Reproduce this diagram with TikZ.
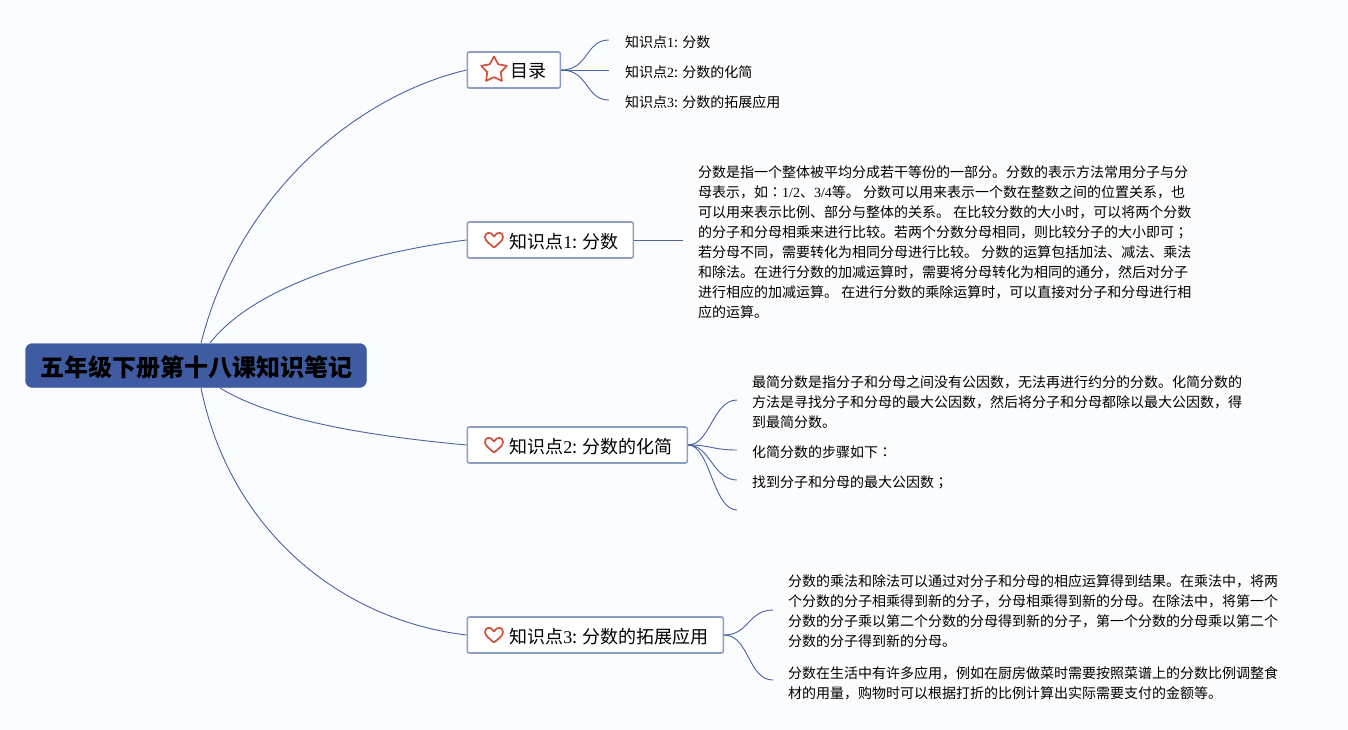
\documentclass[tikz,border=0pt]{standalone}
\usepackage{fontspec}
\setmainfont{Noto Sans CJK SC}
\newfontfamily\latfont{Liberation Serif}
\newfontfamily\twfont{Noto Sans CJK TC}
\newcommand{\lat}[1]{{\latfont #1}}
\newcommand{\tw}[1]{{\twfont #1}}
\usetikzlibrary{shapes.geometric}
\definecolor{pagebg}{HTML}{FBFCFD}
\definecolor{edgeblue}{HTML}{4A62A6}
\definecolor{boxline}{HTML}{8E9DC6}
\definecolor{rootblue}{HTML}{3F5BA1}
\definecolor{iconred}{HTML}{D0503C}
\newcommand{\boxlabel}[3]{\makebox[#1pt][l]{\hspace{#2pt}#3}}
\newcommand{\heartat}[2]{\draw[iconwork] (#1+0,#2+7.5) .. controls (#1-4,#2+4) and (#1-9,#2+1) .. (#1-9,#2-3) .. controls (#1-9,#2-8) and (#1-3,#2-9) .. (#1,#2-3.5) .. controls (#1+3,#2-9) and (#1+9,#2-8) .. (#1+9,#2-3) .. controls (#1+9,#2+1) and (#1+4,#2+4) .. cycle;}
\tikzset{
  iconwork/.style={draw=iconred,line width=1.7pt,line join=round},
  rootbox/.style={fill=rootblue,draw=rootblue,rounded corners=7pt,minimum width=341pt,minimum height=44pt,inner sep=0pt,text height=21pt,text depth=0pt,font=\fontsize{24}{28}\selectfont\bfseries,text=black},
  topicbox/.style={draw=boxline,line width=1.6pt,fill=white,rounded corners=2pt,minimum height=36pt,inner sep=0pt,anchor=west,text height=16pt,text depth=0pt,font=\fontsize{18}{20}\selectfont,text=black},
  notetext/.style={anchor=west,align=left,inner ysep=0pt,inner xsep=15pt,font=\fontsize{14}{20}\selectfont,text=black},
  link/.style={draw=edgeblue,line width=0.9pt},
}
\begin{document}
\begin{tikzpicture}[x=1pt,y=-1pt]
\fill[pagebg] (0,0) rectangle (1348,730);
\useasboundingbox (0,0) rectangle (1348,730);

\node[rootbox] (root) at (196,365.5) {五年级下册第十八课知识笔记};
\node[topicbox] (toc) at (466.5,70) {\boxlabel{93}{43}{目录}};
\node[topicbox] (k1) at (466.5,240) {\boxlabel{166}{42}{知识点\lat{1}: 分数}};
\node[topicbox] (k2) at (466.5,445) {\boxlabel{220}{42}{知识点\lat{2}: 分数的化简}};
\node[topicbox] (k3) at (466.5,635) {\boxlabel{256}{42}{知识点\lat{3}: 分数的拓展应用}};

\node[star,star points=5,star point ratio=1.9,draw=iconred,line width=1.7pt,line join=round,minimum size=27pt,inner sep=0pt] (staricon) at (494,70) {};
\heartat{494}{240}
\heartat{494}{445}
\heartat{494}{635}

\node[notetext,inner xsep=16pt] (t1) at (609,42) {知识点\lat{1}: 分数};
\node[notetext,inner xsep=16pt] (t2) at (609,72) {知识点\lat{2}: 分数的化简};
\node[notetext,inner xsep=16pt] (t3) at (609,102) {知识点\lat{3}: 分数的拓展应用};

\node[notetext] (n1) at (683,242) {分数是指一个整体被平均分成若干等份的一部分。分数的表示方法常用分子与分\\
母表示，如\tw{：}\lat{1/2}、\lat{3/4}等。 分数可以用来表示一个数在整数之间的位置关系，也\\
可以用来表示比例、部分与整体的关系。 在比较分数的大小时，可以将两个分数\\
的分子和分母相乘来进行比较。若两个分数分母相同，则比较分子的大小即可\tw{；}\\
若分母不同，需要转化为相同分母进行比较。 分数的运算包括加法、减法、乘法\\
和除法。在进行分数的加减运算时，需要将分母转化为相同的通分，然后对分子\\
进行相应的加减运算。 在进行分数的乘除运算时，可以直接对分子和分母进行相\\
应的运算。};

\node[notetext] (n2a) at (737,402) {最简分数是指分子和分母之间没有公因数，无法再进行约分的分数。化简分数的\\
方法是寻找分子和分母的最大公因数，然后将分子和分母都除以最大公因数，得\\
到最简分数。};
\node[notetext] (n2b) at (737,452) {化简分数的步骤如下\tw{：}};
\node[notetext] (n2c) at (737,482) {找到分子和分母的最大公因数\tw{；}};
\coordinate (n2d) at (737,510);

\node[notetext] (n3a) at (773,611.5) {分数的乘法和除法可以通过对分子和分母的相应运算得到结果。在乘法中，将两\\
个分数的分子相乘得到新的分子，分母相乘得到新的分母。在除法中，将第一个\\
分数的分子乘以第二个分数的分母得到新的分子，第一个分数的分母乘以第二个\\
分数的分子得到新的分母。};
\node[notetext] (n3b) at (773,683) {分数在生活中有许多应用，例如在厨房做菜时需要按照菜谱上的分数比例调整食\\
材的用量，购物时可以根据打折的比例计算出实际需要支付的金额等。};

\coordinate (r1) at (201,343);
\coordinate (r2) at (210,343);
\coordinate (r3) at (220,388);
\coordinate (r4) at (201,388);
\draw[link] (r1) .. controls (240,190) and (360,95) .. (toc.west);
\draw[link] (r2) .. controls (255,285) and (370,252) .. (k1.west);
\draw[link] (r3) .. controls (275,422) and (380,437) .. (k2.west);
\draw[link] (r4) .. controls (230,530) and (340,620) .. (k3.west);

\draw[link] (toc.east) .. controls +(28,0) and +(-24,0) .. ([yshift=2pt]t1.west);
\draw[link] (toc.east) -- ([yshift=2pt]t2.west);
\draw[link] (toc.east) .. controls +(28,0) and +(-24,0) .. ([yshift=2pt]t3.west);
\draw[link] (k1.east) -- ([yshift=2pt]n1.west);
\draw[link] (k2.east) .. controls +(22,0) and +(-24,0) .. ([yshift=2pt]n2a.west);
\draw[link] (k2.east) .. controls +(22,0) and +(-24,0) .. ([yshift=2pt]n2b.west);
\draw[link] (k2.east) .. controls +(22,0) and +(-24,0) .. ([yshift=2pt]n2c.west);
\draw[link] (k2.east) .. controls +(22,0) and +(-24,0) .. (n2d);
\draw[link] (k3.east) .. controls +(25,0) and +(-25,0) .. ([yshift=1.5pt]n3a.west);
\draw[link] (k3.east) .. controls +(25,0) and +(-25,0) .. ([yshift=3pt]n3b.west);
\end{tikzpicture}
\end{document}
